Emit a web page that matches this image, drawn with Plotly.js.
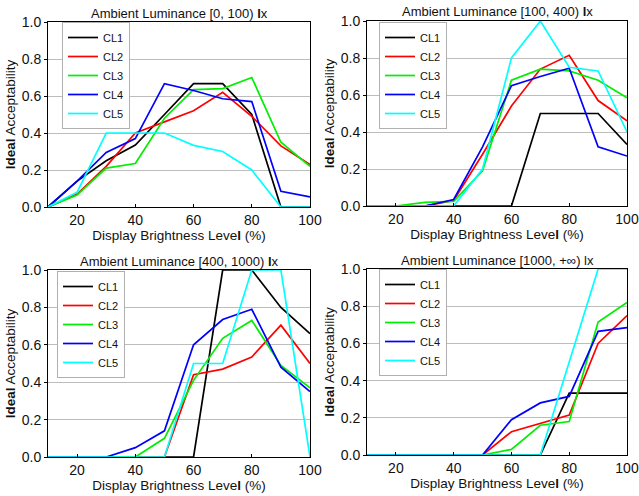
<!DOCTYPE html>
<html>
<head>
<meta charset="utf-8">
<script src="https://cdn.plot.ly/plotly-3.0.1.min.js"></script>
<style>html,body{margin:0;padding:0;background:#fff;}#chart{width:639px;height:496px;}</style>
</head>
<body>
<div id="chart"></div>
<script>
const brightness = [10, 20, 30, 40, 50, 60, 70, 80, 90, 100];
const seriesNames = ["CL1", "CL2", "CL3", "CL4", "CL5"];
const seriesColors = ["#000000", "#ff0000", "#00ee00", "#0000ff", "#00ffff"];
const panelTitles = [
  "Ambient Luminance [0, 100) <b>l</b>x",
  "Ambient Luminance [100, 400) <b>l</b>x",
  "Ambient Luminance [400, 1000) <b>l</b>x",
  "Ambient Luminance [1000, +\u221e) lx"
];

// Panel 1: [0, 100) lx
const p1_CL1 = [0, 0.14, 0.25, 0.335, 0.50, 0.667, 0.667, 0.50, 0, 0];
const p1_CL2 = [0, 0.07, 0.22, 0.40, 0.46, 0.52, 0.62, 0.49, 0.33, 0.23];
const p1_CL3 = [0, 0.065, 0.21, 0.235, 0.48, 0.635, 0.64, 0.70, 0.35, 0.22];
const p1_CL4 = [0, 0.14, 0.295, 0.37, 0.667, 0.63, 0.585, 0.57, 0.085, 0.055];
const p1_CL5 = [0, 0.08, 0.40, 0.40, 0.40, 0.333, 0.30, 0.20, 0, 0];

// Panel 2: [100, 400) lx
const p2_CL1 = [0, 0, 0, 0, 0, 0, 0.50, 0.50, 0.50, 0.333];
const p2_CL2 = [0, 0, 0, 0.03, 0.28, 0.54, 0.74, 0.815, 0.57, 0.46];
const p2_CL3 = [0, 0, 0.02, 0.025, 0.19, 0.68, 0.74, 0.73, 0.68, 0.585];
const p2_CL4 = [0, 0, 0, 0.035, 0.32, 0.65, 0.70, 0.745, 0.32, 0.27];
const p2_CL5 = [0, 0, 0, 0, 0.20, 0.80, 1.00, 0.75, 0.73, 0.40];

// Panel 3: [400, 1000) lx
const p3_CL1 = [0, 0, 0, 0, 0, 0, 1.00, 1.00, 0.80, 0.66];
const p3_CL2 = [0, 0, 0, 0, 0, 0.44, 0.47, 0.535, 0.705, 0.50];
const p3_CL3 = [0, 0, 0, 0, 0.10, 0.41, 0.635, 0.73, 0.49, 0.37];
const p3_CL4 = [0, 0, 0, 0.05, 0.14, 0.60, 0.735, 0.79, 0.48, 0.35];
const p3_CL5 = [0, 0, 0, 0, 0, 0.50, 0.50, 1.00, 1.00, 0];

// Panel 4: [1000, +inf) lx
const p4_CL1 = [0, 0, 0, 0, 0, 0, 0, 0.333, 0.333, 0.333];
const p4_CL2 = [0, 0, 0, 0, 0, 0.125, 0.17, 0.215, 0.60, 0.75];
const p4_CL3 = [0, 0, 0, 0, 0, 0.03, 0.16, 0.18, 0.715, 0.82];
const p4_CL4 = [0, 0, 0, 0, 0, 0.19, 0.28, 0.315, 0.665, 0.685];
const p4_CL5 = [0, 0, 0, 0, 0, 0, 0, 0.50, 1.00, 1.00];

const xTickVals = [20, 40, 60, 80, 100];
const yTickVals = [0, 0.2, 0.4, 0.6, 0.8, 1.0];

const panels = [
  [p1_CL1, p1_CL2, p1_CL3, p1_CL4, p1_CL5],
  [p2_CL1, p2_CL2, p2_CL3, p2_CL4, p2_CL5],
  [p3_CL1, p3_CL2, p3_CL3, p3_CL4, p3_CL5],
  [p4_CL1, p4_CL2, p4_CL3, p4_CL4, p4_CL5]
];

const W = 639, H = 496;
// plot-area pixel boxes [left, right, top, bottom]
const boxes = [
  [48, 310, 22, 207],
  [367, 627, 21, 206],
  [48, 310, 270, 457],
  [367, 627, 269, 455]
];
const legendPos = [[62, 22], [379, 22], [57, 271], [379, 269]];

const FONT = "Liberation Sans, Arial, sans-serif";
const traces = [];
const layout = {
  width: W, height: H,
  margin: {l: 0, r: 0, t: 0, b: 0},
  paper_bgcolor: "#ffffff",
  plot_bgcolor: "#ffffff",
  font: {family: FONT, color: "#111111", size: 13},
  showlegend: true,
  annotations: []
};

panels.forEach((pan, i) => {
  const n = i === 0 ? "" : String(i + 1);
  const xa = "x" + n, ya = "y" + n;
  const b = boxes[i];
  pan.forEach((vals, j) => {
    traces.push({
      type: "scatter", mode: "lines",
      x: brightness, y: vals,
      xaxis: xa, yaxis: ya,
      name: seriesNames[j],
      legend: i === 0 ? "legend" : "legend" + (i + 1),
      line: {color: seriesColors[j], width: 1.7},
      hoverinfo: "x+y+name"
    });
  });
  layout["xaxis" + n] = {
    domain: [b[0] / W, b[1] / W],
    anchor: ya,
    range: [10, 100],
    tickvals: xTickVals,
    ticks: "inside", ticklen: 3, tickcolor: "#000",
    showline: true, linecolor: "#000", linewidth: 1, mirror: true,
    showgrid: false, zeroline: false,
    tickfont: {size: 14, family: FONT, color: "#111"},
    title: {text: "Display Brightness Leve<b>l</b> (%)", font: {size: 13.5, family: FONT, color: "#111"}, standoff: 1},
    automargin: false,
    fixedrange: true
  };
  layout["yaxis" + n] = {
    domain: [1 - b[3] / H, 1 - b[2] / H],
    anchor: xa,
    range: [0, 1],
    tickvals: yTickVals,
    tickformat: ".1f",
    ticks: "outside", ticklen: 3, tickcolor: "#000",
    showline: true, linecolor: "#000", linewidth: 1, mirror: true,
    showgrid: true, gridcolor: "#bdbdbd", gridwidth: 1,
    zeroline: false,
    tickfont: {size: 14, family: FONT, color: "#111"},
    title: {text: "<b>Ideal</b> Acceptability", font: {size: 13.5, family: FONT, color: "#111"}, standoff: 3},
    automargin: false,
    fixedrange: true
  };
  layout[i === 0 ? "legend" : "legend" + (i + 1)] = {
    x: legendPos[i][0] / W, y: 1 - legendPos[i][1] / H,
    xanchor: "left", yanchor: "top",
    bgcolor: "#ffffff", bordercolor: "#b0b0b0", borderwidth: 1,
    font: {size: 11, family: FONT, color: "#111"},
    itemwidth: 30,
    tracegroupgap: 0
  };
  layout.annotations.push({
    text: panelTitles[i],
    xref: "paper", yref: "paper",
    x: (b[0] + b[1]) / 2 / W, y: 1 - (b[2] - 9) / H,
    xanchor: "center", yanchor: "middle",
    showarrow: false,
    font: {size: 13, family: FONT, color: "#111"}
  });
});

Plotly.newPlot("chart", traces, layout, {displayModeBar: false, staticPlot: true});
</script>
</body>
</html>
